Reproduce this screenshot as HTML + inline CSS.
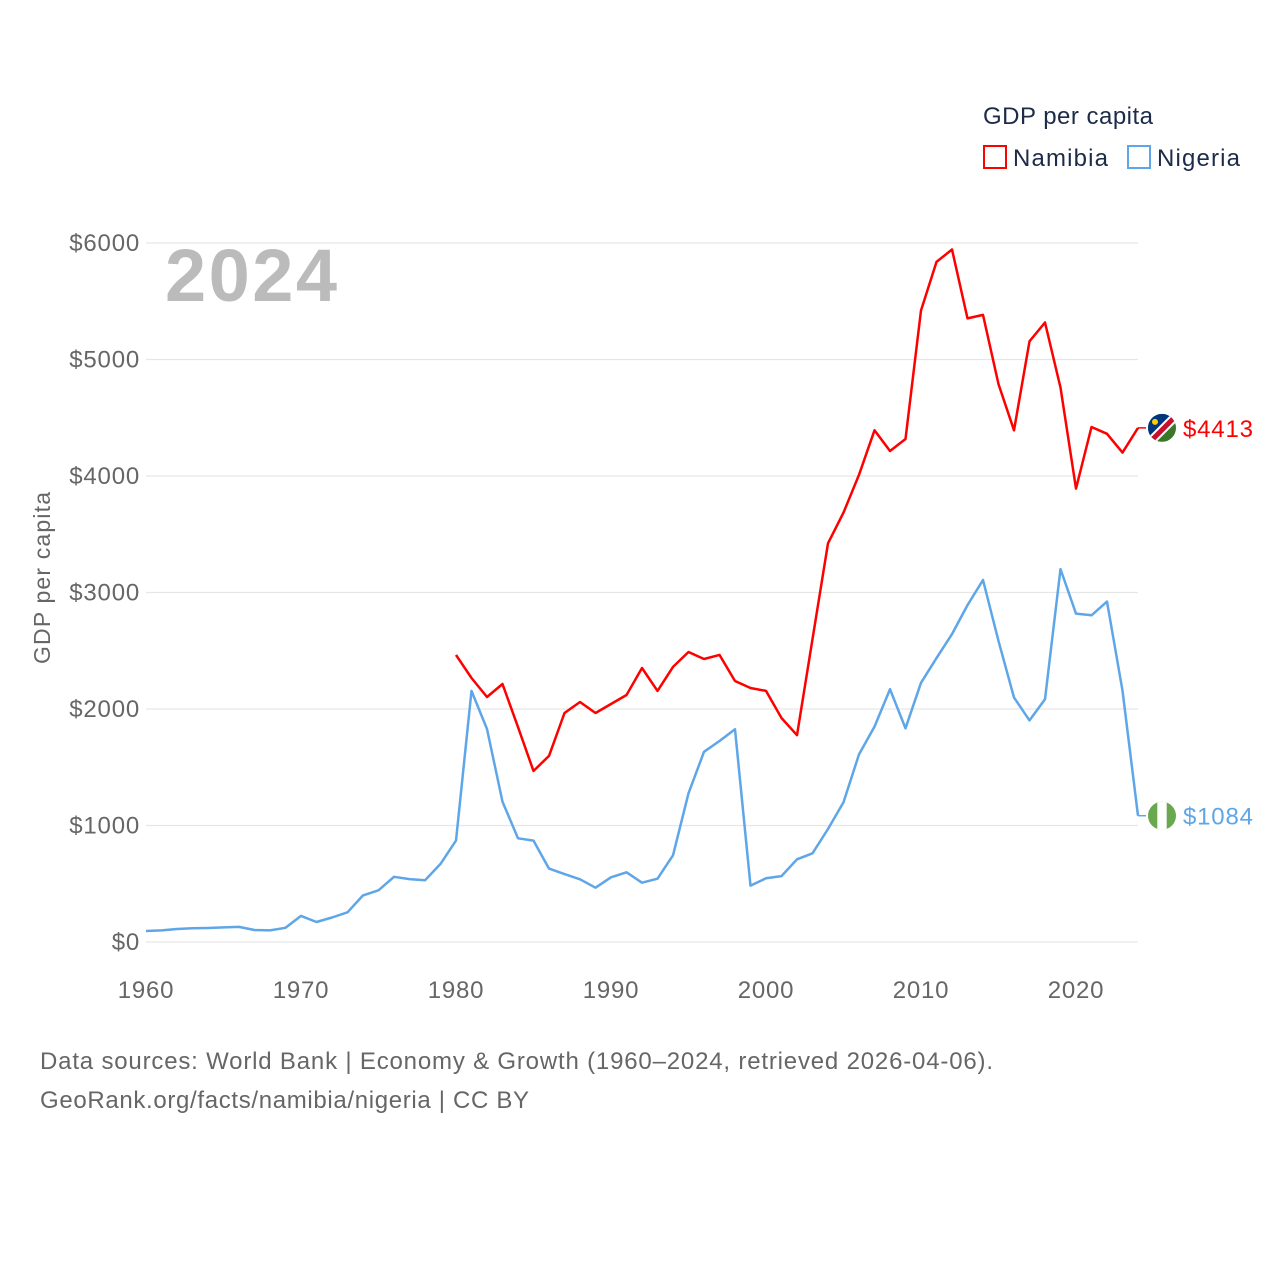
<!DOCTYPE html>
<html><head><meta charset="utf-8"><style>
body{margin:0;background:#fff;width:1280px;height:1280px;overflow:hidden;font-family:"Liberation Sans",sans-serif}
</style></head><body>
<svg width="1280" height="1280" xmlns="http://www.w3.org/2000/svg">
<g id="grid"></g>
<g id="yticks"></g>
<g id="xticks"></g>
<text x="50" y="578" transform="rotate(-90 50 578)" text-anchor="middle" font-size="23" textLength="172" fill="#666">GDP per capita</text>
<text x="165" y="301" font-size="74" font-weight="bold" fill="#bbb" textLength="172">2024</text>
<g id="series"></g>
<g>
<text x="983" y="124" font-size="24" fill="#1c2b48" textLength="170">GDP per capita</text>
<rect x="984" y="146" width="22" height="22" fill="none" stroke="#ff0000" stroke-width="2"/>
<text x="1013" y="166" font-size="24" fill="#1c2b48" textLength="95">Namibia</text>
<rect x="1128" y="146" width="22" height="22" fill="none" stroke="#5ea6e8" stroke-width="2"/>
<text x="1157" y="166" font-size="24" fill="#1c2b48" textLength="83">Nigeria</text>
</g>
<text x="40" y="1069" font-size="24" fill="#666" textLength="953">Data sources: World Bank | Economy &amp; Growth (1960–2024, retrieved 2026-04-06).</text>
<text x="40" y="1108" font-size="24" fill="#666" textLength="489">GeoRank.org/facts/namibia/nigeria | CC BY</text>
</svg>
<script>
const yTicks=[0,1000,2000,3000,4000,5000,6000];
const yTickLabels=["$0","$1000","$2000","$3000","$4000","$5000","$6000"];
const xTicks=[1960,1970,1980,1990,2000,2010,2020];
const namibiaYears=[1980,1981,1982,1983,1984,1985,1986,1987,1988,1989,1990,1991,1992,1993,1994,1995,1996,1997,1998,1999,2000,2001,2002,2003,2004,2005,2006,2007,2008,2009,2010,2011,2012,2013,2014,2015,2016,2017,2018,2019,2020,2021,2022,2023,2024];
const namibiaValues=[2464,2266,2103,2215,1845,1468,1597,1966,2060,1966,2043,2120,2352,2155,2361,2489,2429,2464,2240,2180,2155,1923,1775,2600,3422,3686,4010,4392,4215,4318,5421,5838,5944,5353,5383,4789,4392,5156,5318,4759,3892,4421,4362,4201,4413];
const nigeriaYears=[1960,1961,1962,1963,1964,1965,1966,1967,1968,1969,1970,1971,1972,1973,1974,1975,1976,1977,1978,1979,1980,1981,1982,1983,1984,1985,1986,1987,1988,1989,1990,1991,1992,1993,1994,1995,1996,1997,1998,1999,2000,2001,2002,2003,2004,2005,2006,2007,2008,2009,2010,2011,2012,2013,2014,2015,2016,2017,2018,2019,2020,2021,2022,2023,2024];
const nigeriaValues=[94,100,112,118,120,125,130,103,100,122,224,172,210,255,400,444,560,540,530,670,870,2155,1828,1204,890,870,630,583,538,466,555,598,509,543,744,1276,1633,1725,1826,484,547,566,710,761,970,1200,1610,1849,2170,1834,2225,2437,2643,2892,3107,2584,2099,1902,2084,3201,2819,2804,2922,2157,1084];
const NS="http://www.w3.org/2000/svg";
const xs=y=>146+(y-1960)*15.5;
const ys=v=>942-v*0.1165;
function mk(tag,attrs,parent){const e=document.createElementNS(NS,tag);for(const k in attrs)e.setAttribute(k,attrs[k]);parent.appendChild(e);return e;}
const grid=document.getElementById('grid'),yt=document.getElementById('yticks'),xt=document.getElementById('xticks'),ser=document.getElementById('series');
yTicks.forEach((v,i)=>{
 const l=mk('line',{x1:146,x2:1138,y1:ys(v),y2:ys(v),stroke:'#e6e6e6','stroke-width':1.3},grid);
 
 
 const t=mk('text',{x:140,y:ys(v)+8,'text-anchor':'end','font-size':24,'letter-spacing':'0.8',fill:'#666'},yt);
 t.textContent=yTickLabels[i];
 
 
});
xTicks.forEach(y=>{
 const t=mk('text',{x:xs(y),y:998,'text-anchor':'middle','font-size':24,'letter-spacing':'0.8',fill:'#666'},xt);
 t.textContent=y;
 
 
});
function line(years,vals,color,name){
 const d=years.map((y,i)=>(i?'L':'M')+xs(y).toFixed(1)+','+ys(vals[i]).toFixed(1)).join('');
 const p=mk('path',{d:d,fill:'none',stroke:color,'stroke-width':2.5,'stroke-linejoin':'round'},ser);
 
 
 const lv=vals[vals.length-1],ly=ys(lv),lx=xs(years[years.length-1]);
 const c=mk('line',{x1:lx,x2:lx+8,y1:ly,y2:ly,stroke:color,'stroke-width':1.5},ser);
 
 
 const t=mk('text',{x:1183,y:ly+9,'font-size':24,'letter-spacing':'0.8',fill:color},ser);
 t.textContent='$'+lv;
 
 
 return ly;
}
const ny=line(namibiaYears,namibiaValues,'#ff0000','namibia-line');
const gy=line(nigeriaYears,nigeriaValues,'#5ea6e8','nigeria-line');
const fn=mk('g',{},ser);


fn.innerHTML=`<clipPath id="cn"><circle cx="1162" cy="${ny}" r="14"/></clipPath><g clip-path="url(#cn)"><rect x="1148" y="${ny-14}" width="28" height="28" fill="#3a7728"/><polygon points="1148,${ny-14} 1176,${ny-14} 1148,${ny+14}" fill="#003580"/><line x1="1148" y1="${ny+16}" x2="1178" y2="${ny-14}" stroke="#fff" stroke-width="9"/><line x1="1148" y1="${ny+16}" x2="1178" y2="${ny-14}" stroke="#c8102e" stroke-width="5"/><circle cx="1155" cy="${ny-6}" r="3" fill="#ffce00"/></g>`;
const fg=mk('g',{},ser);


fg.innerHTML=`<clipPath id="cg"><circle cx="1162" cy="${gy}" r="14"/></clipPath><g clip-path="url(#cg)"><rect x="1148" y="${gy-14}" width="28" height="28" fill="#6aa84f"/><rect x="1157.3" y="${gy-14}" width="9.4" height="28" fill="#fff"/></g>`;
</script>
</body></html>
